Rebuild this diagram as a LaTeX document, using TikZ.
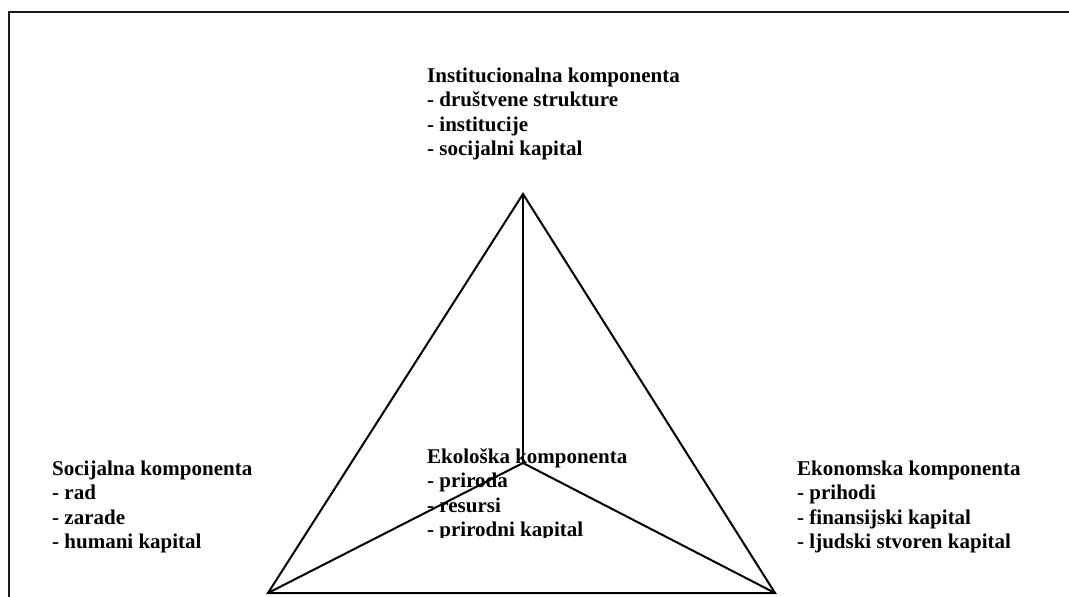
\documentclass[tikz,border=0pt]{standalone}
\usepackage{fontspec}
\setmainfont{Liberation Serif}
\begin{document}
\begin{tikzpicture}[x=1pt,y=-1pt,
  lbl/.style={inner sep=0pt, anchor=base west, font=\bfseries\fontsize{21}{24.5}\selectfont},
  edge/.style={line width=2pt, line join=miter},
  frame/.style={line width=2.2pt, black!90}]
\useasboundingbox (0,0) rectangle (1069,597);
\draw[frame] (1069,12) -- (9,12) -- (9,597);

\coordinate (top) at (523,194);
\coordinate (bl) at (268,593);
\coordinate (br) at (775,593);
\coordinate (ctr) at (523,463);
\draw[edge] (top) -- (bl) -- (br) -- cycle;
\draw[edge] (top) -- (ctr);
\draw[edge] (bl) -- (ctr) -- (br);

% Institucionalna
\node[lbl] (i0) at (427,82) {Institucionalna komponenta};
\node[lbl] (i1) at (427,106.5) {- društvene strukture};
\node[lbl] (i2) at (427,131) {- institucije};
\node[lbl] (i3) at (427,155.5) {- socijalni kapital};

% Socijalna
\node[lbl] (s0) at (52,475) {Socijalna komponenta};
\node[lbl] (s1) at (52,499.5) {- rad};
\node[lbl] (s2) at (52,524) {- zarade};
\node[lbl] (s3) at (52,548.5) {- humani kapital};

% Ekonomska
\node[lbl] (e0) at (797,475) {Ekonomska komponenta};
\node[lbl] (e1) at (797,499.5) {- prihodi};
\node[lbl] (e2) at (797,524) {- finansijski kapital};
\node[lbl] (e3) at (797,548.5) {- ljudski stvoren kapital};

% Ekoloska (clipped)
\begin{scope}
\clip (420,440) rectangle (720,537);
\node[lbl] (k0) at (427,463) {Ekološka komponenta};
\node[lbl] (k1) at (427,487.5) {- priroda};
\node[lbl] (k2) at (427,512) {- resursi};
\node[lbl] (k3) at (427,536.5) {- prirodni kapital};
\end{scope}
\end{tikzpicture}
\end{document}
